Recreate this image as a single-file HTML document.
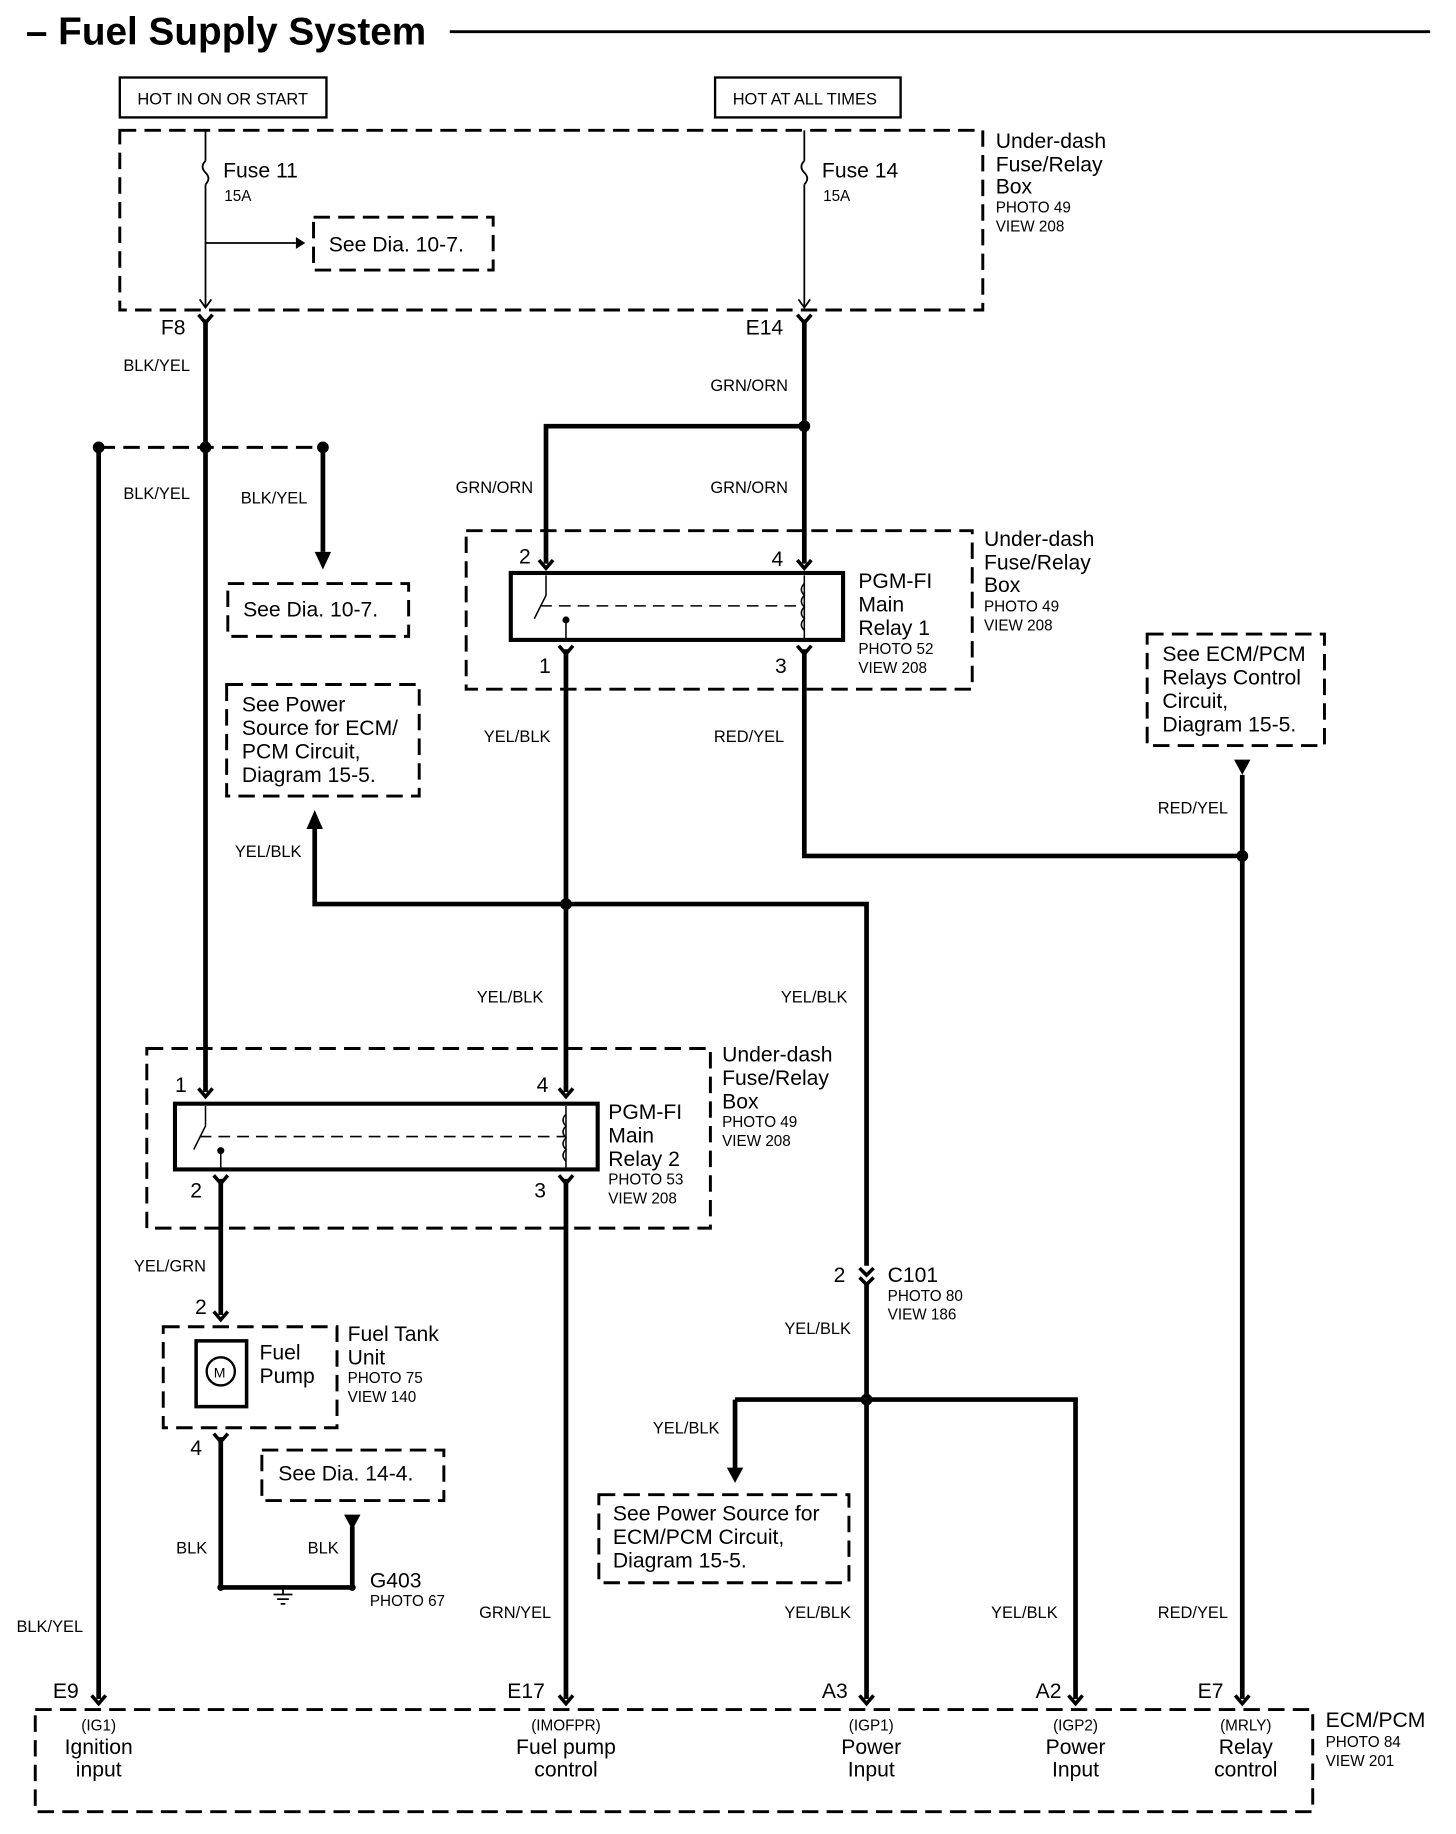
<!DOCTYPE html>
<html><head><meta charset="utf-8"><style>
html,body{margin:0;padding:0;background:#fff;}
svg{display:block;}
text{font-family:"Liberation Sans",Arial,sans-serif;fill:#000;}
.s{font-size:14px;}
.m{font-size:18px;}
.p{font-size:13px;}
</style></head><body>
<svg width="1456" height="1834" viewBox="0 0 1240 1562" xmlns="http://www.w3.org/2000/svg">
<g fill="none" stroke="#000">
<line x1="383" y1="27" x2="1218" y2="27" stroke-width="2.5"/>
<rect x="102" y="66" width="176" height="34" stroke-width="2"/>
<rect x="609" y="66" width="158" height="34" stroke-width="2"/>
<g stroke-dasharray="14,7" stroke-width="2.5">
<rect x="102" y="111" width="735" height="153"/>
<rect x="267" y="185" width="153" height="45"/>
<rect x="194" y="497" width="154" height="45"/>
<rect x="193" y="583" width="164" height="95"/>
<rect x="397" y="452" width="431" height="135"/>
<rect x="977" y="540" width="151" height="95"/>
<rect x="125" y="893" width="480" height="153"/>
<rect x="139" y="1130" width="148" height="86"/>
<rect x="223" y="1235" width="155" height="43"/>
<rect x="510" y="1273" width="213" height="75"/>
<rect x="30" y="1456" width="1088" height="87"/>
<line x1="84" y1="381" x2="275" y2="381"/>
</g>
<g stroke-width="1.5">
<line x1="175" y1="111" x2="175" y2="137"/><path d="M175 137 q-5 5 0 10 q5 5 0 10"/><line x1="175" y1="157" x2="175" y2="262"/>
<line x1="685" y1="111" x2="685" y2="137"/><path d="M685 137 q-5 5 0 10 q5 5 0 10"/><line x1="685" y1="157" x2="685" y2="262"/>
<line x1="175" y1="207" x2="252" y2="207"/>
<path d="M170 255 l5 7 l5 -7 M680 255 l5 7 l5 -7"/>
</g>
<g stroke-width="4">
<path d="M175 272 V930"/>
<path d="M84 381 V1447"/>
<path d="M275 381 V470"/>
<path d="M685 272 V480"/>
<path d="M685 363 H465 V480"/>
<path d="M482 553 V930"/>
<path d="M268 705 V770 H738 V1078"/>
<path d="M738 1094 V1447"/>
<path d="M685 553 V729 H1058 V1447"/>
<path d="M1058 660 V729"/>
<path d="M188 1004 V1120"/>
<path d="M482 1004 V1447"/>
<path d="M188 1224 V1352 H300 V1300"/>
<path d="M626 1192 H916 V1447"/>
<path d="M626 1192 V1252"/>
</g>
<g stroke-width="3">
<path d="M169 268 l6 7 l6 -7 M679 268 l6 7 l6 -7"/>
<path d="M459 477 l6 7 l6 -7 M679 477 l6 7 l6 -7 M476 550 l6 7 l6 -7 M679 550 l6 7 l6 -7"/>
<path d="M169 927 l6 7 l6 -7 M476 927 l6 7 l6 -7 M182 1001 l6 7 l6 -7 M476 1001 l6 7 l6 -7"/>
<path d="M182 1117 l6 7 l6 -7 M182 1221 l6 7 l6 -7"/>
<path d="M732 1080 l6 6 l6 -6 M732 1088 l6 6 l6 -6"/>
<path d="M78 1444 l6 7 l6 -7 M476 1444 l6 7 l6 -7 M732 1444 l6 7 l6 -7 M910 1444 l6 7 l6 -7 M1052 1444 l6 7 l6 -7"/>
</g>
<rect x="435" y="488" width="283" height="57" stroke-width="3.5"/>
<rect x="149" y="940" width="360" height="56" stroke-width="3.5"/>
<g stroke-width="1.3">
<path d="M465 490 V507 L455 527 M482 545 V528 M685 490 V545"/>
<path d="M685 497 q-5 5 0 10 q-5 5 0 10 q-5 5 0 10 q-5 5 0 10"/>
<line x1="460" y1="516" x2="685" y2="516" stroke-dasharray="10,6"/>
<path d="M175 942 V959 L165 979 M188 996 V980 M482 942 V996"/>
<path d="M482 949 q-5 5 0 10 q-5 5 0 10 q-5 5 0 10 q-5 5 0 10"/>
<line x1="170" y1="968" x2="482" y2="968" stroke-dasharray="10,6"/>
</g>
<rect x="167" y="1142" width="43" height="56" stroke-width="3"/>
<circle cx="188" cy="1168" r="12" stroke-width="2"/>
<g stroke-width="1.5"><path d="M241 1352 V1358 M233 1358 H249 M236 1362 H246 M239 1366 H243"/></g>
</g>
<g fill="#000">
<circle cx="175" cy="381" r="5"/><circle cx="84" cy="381" r="5"/><circle cx="275" cy="381" r="5"/>
<circle cx="685" cy="363" r="5"/><circle cx="482" cy="770" r="5"/><circle cx="1058" cy="729" r="5"/>
<circle cx="738" cy="1192" r="5"/>
<circle cx="188" cy="1352" r="3"/><circle cx="300" cy="1352" r="3"/>
<circle cx="482" cy="528" r="3"/><circle cx="188" cy="980" r="3"/>
<polygon points="252,202 260,207 252,212"/>
<polygon points="275,485 268,470 282,470"/>
<polygon points="268,690 261,706 275,706"/>
<polygon points="1051,647 1065,647 1058,660"/>
<polygon points="293,1290 307,1290 300,1303"/>
<polygon points="619,1250 633,1250 626,1263"/>
</g>
<text x="22" y="38" style="font-size:33px;font-weight:bold">– Fuel Supply System</text>
<text x="117" y="89" class="s">HOT IN ON OR START</text>
<text x="624" y="89" class="s">HOT AT ALL TIMES</text>
<text x="190" y="151" class="m">Fuse 11</text><text x="191" y="171" class="p">15A</text>
<text x="700" y="151" class="m">Fuse 14</text><text x="701" y="171" class="p">15A</text>
<text x="280" y="214" class="m">See Dia. 10-7.</text>
<text x="848" y="126" class="m">Under-dash</text><text x="848" y="146" class="m">Fuse/Relay</text><text x="848" y="165" class="m">Box</text>
<text x="848" y="181" class="p">PHOTO 49</text><text x="848" y="197" class="p">VIEW 208</text>
<text x="137" y="285" class="m">F8</text><text x="635" y="285" class="m">E14</text>
<text x="105" y="316" class="s">BLK/YEL</text><text x="105" y="425" class="s">BLK/YEL</text><text x="205" y="429" class="s">BLK/YEL</text>
<text x="605" y="333" class="s">GRN/ORN</text><text x="388" y="420" class="s">GRN/ORN</text><text x="605" y="420" class="s">GRN/ORN</text>
<text x="207" y="525" class="m">See Dia. 10-7.</text>
<text x="206" y="606" class="m">See Power</text><text x="206" y="626" class="m">Source for ECM/</text><text x="206" y="646" class="m">PCM Circuit,</text><text x="206" y="666" class="m">Diagram 15-5.</text>
<text x="442" y="480" class="m">2</text><text x="657" y="482" class="m">4</text><text x="459" y="573" class="m">1</text><text x="660" y="573" class="m">3</text>
<text x="731" y="501" class="m">PGM-FI</text><text x="731" y="521" class="m">Main</text><text x="731" y="541" class="m">Relay 1</text>
<text x="731" y="557" class="p">PHOTO 52</text><text x="731" y="573" class="p">VIEW 208</text>
<text x="838" y="465" class="m">Under-dash</text><text x="838" y="485" class="m">Fuse/Relay</text><text x="838" y="504" class="m">Box</text>
<text x="838" y="521" class="p">PHOTO 49</text><text x="838" y="537" class="p">VIEW 208</text>
<text x="990" y="563" class="m">See ECM/PCM</text><text x="990" y="583" class="m">Relays Control</text><text x="990" y="603" class="m">Circuit,</text><text x="990" y="623" class="m">Diagram 15-5.</text>
<text x="412" y="632" class="s">YEL/BLK</text><text x="608" y="632" class="s">RED/YEL</text><text x="986" y="693" class="s">RED/YEL</text>
<text x="200" y="730" class="s">YEL/BLK</text><text x="406" y="854" class="s">YEL/BLK</text><text x="665" y="854" class="s">YEL/BLK</text>
<text x="615" y="904" class="m">Under-dash</text><text x="615" y="924" class="m">Fuse/Relay</text><text x="615" y="944" class="m">Box</text>
<text x="615" y="960" class="p">PHOTO 49</text><text x="615" y="976" class="p">VIEW 208</text>
<text x="149" y="930" class="m">1</text><text x="457" y="930" class="m">4</text><text x="162" y="1020" class="m">2</text><text x="455" y="1020" class="m">3</text>
<text x="518" y="953" class="m">PGM-FI</text><text x="518" y="973" class="m">Main</text><text x="518" y="993" class="m">Relay 2</text>
<text x="518" y="1009" class="p">PHOTO 53</text><text x="518" y="1025" class="p">VIEW 208</text>
<text x="114" y="1083" class="s">YEL/GRN</text>
<text x="166" y="1119" class="m">2</text><text x="162" y="1239" class="m">4</text>
<text x="221" y="1158" class="m">Fuel</text><text x="221" y="1178" class="m">Pump</text>
<text x="182" y="1173" style="font-size:12px">M</text>
<text x="296" y="1142" class="m">Fuel Tank</text><text x="296" y="1162" class="m">Unit</text>
<text x="296" y="1178" class="p">PHOTO 75</text><text x="296" y="1194" class="p">VIEW 140</text>
<text x="237" y="1261" class="m">See Dia. 14-4.</text>
<text x="150" y="1323" class="s">BLK</text><text x="262" y="1323" class="s">BLK</text>
<text x="315" y="1352" class="m">G403</text><text x="315" y="1368" class="p">PHOTO 67</text>
<text x="710" y="1092" class="m">2</text><text x="756" y="1092" class="m">C101</text>
<text x="756" y="1108" class="p">PHOTO 80</text><text x="756" y="1124" class="p">VIEW 186</text>
<text x="668" y="1136" class="s">YEL/BLK</text><text x="556" y="1221" class="s">YEL/BLK</text>
<text x="522" y="1295" class="m">See Power Source for</text><text x="522" y="1315" class="m">ECM/PCM Circuit,</text><text x="522" y="1335" class="m">Diagram 15-5.</text>
<text x="14" y="1390" class="s">BLK/YEL</text><text x="408" y="1378" class="s">GRN/YEL</text><text x="668" y="1378" class="s">YEL/BLK</text>
<text x="844" y="1378" class="s">YEL/BLK</text><text x="986" y="1378" class="s">RED/YEL</text>
<text x="45" y="1446" class="m">E9</text><text x="432" y="1446" class="m">E17</text><text x="700" y="1446" class="m">A3</text><text x="882" y="1446" class="m">A2</text><text x="1020" y="1446" class="m">E7</text>
<g text-anchor="middle">
<text x="84" y="1474" class="p">(IG1)</text><text x="84" y="1494" class="m">Ignition</text><text x="84" y="1513" class="m">input</text>
<text x="482" y="1474" class="p">(IMOFPR)</text><text x="482" y="1494" class="m">Fuel pump</text><text x="482" y="1513" class="m">control</text>
<text x="742" y="1474" class="p">(IGP1)</text><text x="742" y="1494" class="m">Power</text><text x="742" y="1513" class="m">Input</text>
<text x="916" y="1474" class="p">(IGP2)</text><text x="916" y="1494" class="m">Power</text><text x="916" y="1513" class="m">Input</text>
<text x="1061" y="1474" class="p">(MRLY)</text><text x="1061" y="1494" class="m">Relay</text><text x="1061" y="1513" class="m">control</text>
</g>
<text x="1129" y="1471" class="m">ECM/PCM</text><text x="1129" y="1488" class="p">PHOTO 84</text><text x="1129" y="1504" class="p">VIEW 201</text>
</svg>
</body></html>
